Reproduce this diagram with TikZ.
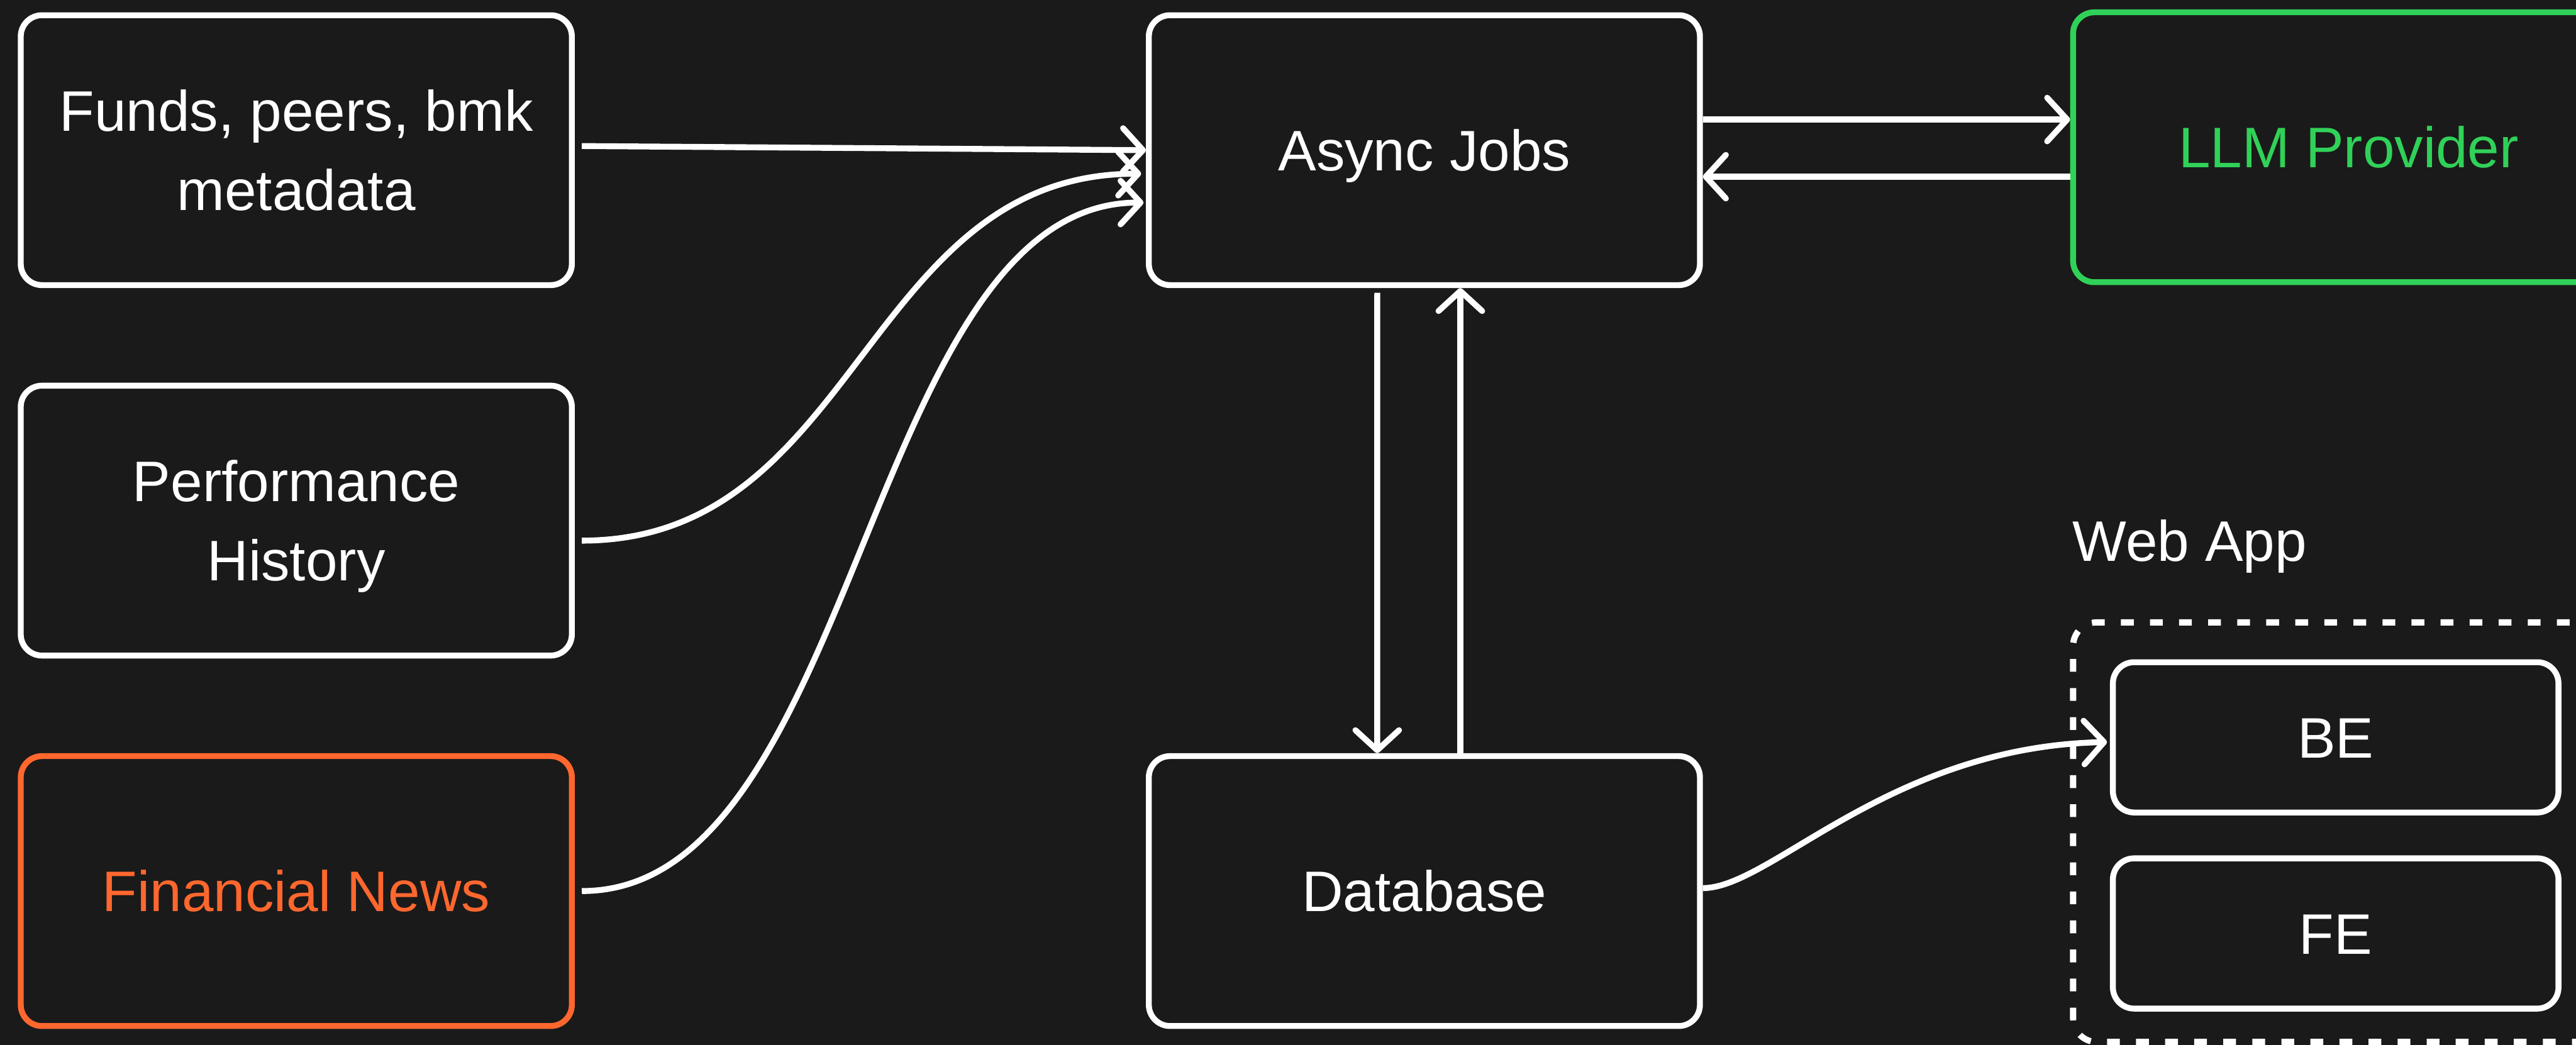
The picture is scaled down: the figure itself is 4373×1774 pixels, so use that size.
\documentclass[tikz,border=0pt]{standalone}
\usepackage{fontspec}
\setmainfont{Liberation Sans}
\usetikzlibrary{arrows.meta,calc}
\definecolor{bgdark}{HTML}{1A1A1A}
\definecolor{newsorange}{HTML}{FF672E}
\definecolor{llmgreen}{HTML}{30D158}

\begin{document}
\begin{tikzpicture}[x=0.01cm,y=-0.01cm,
  labelfont/.style={font=\fontsize{27.6}{38.1}\selectfont},
  box/.style={draw=white, line width=0.1cm, rounded corners=0.36cm, fill=bgdark,
    minimum width=9.35cm, minimum height=4.58cm, inner sep=0pt, align=center,
    text=white, labelfont, text height=0.695cm, text depth=0pt},
  twoline/.style={text height=2.035cm, text depth=0pt},
  smallbox/.style={box, minimum width=7.56cm, minimum height=2.55cm},
  groupbox/.style={draw=white, line width=0.105cm, rounded corners=0.4cm,
    dash pattern=on 0.217cm off 0.276cm, minimum width=9.81cm, minimum height=7.12cm,
    inner sep=0pt},
  link/.style={draw=white, line width=0.1cm,
    -{Straight Barb[length=0.34cm, width=0.74cm, line join=round, line cap=round]}},
]
% canvas
\fill[bgdark] (0,0) rectangle (4373,1774);
\useasboundingbox (0,0) rectangle (4373,1774);
\clip (0,0) rectangle (4373,1774);

% source boxes
\node[box, twoline] (funds) at (503,255) {Funds, peers, bmk\\metadata};
\node[box, twoline] (perf)  at (503,884) {Performance\\History};
\node[box, draw=newsorange, text=newsorange] (news) at (503,1513) {Financial News};

% processing and storage
\node[box] (async) at (2418,255) {Async Jobs};
\node[box] (db)    at (2418,1513) {Database};
\node[box, draw=llmgreen, text=llmgreen] (llm) at (3987,250) {LLM Provider};

% web app group
\node[anchor=base west, text=white, labelfont, inner sep=0pt] (weblabel) at (3518,953) {Web App};
\node[groupbox] (webapp) at (4010,1413) {};
\node[smallbox] (be) at (3965,1252) {BE};
\node[smallbox] (fe) at (3965,1585) {FE};

% inputs into the job runner
\draw[link] ([shift={(12,-7)}]funds.east) -- (async.west);
\draw[link] ([shift={(12,34)}]perf.east)
  .. controls +(470,0) and +(-470,0) .. ([shift={(-8,40)}]async.west);
\draw[link] ([xshift=0.12cm]news.east)
  .. controls +(470,0) and +(-470,0) .. ([shift={(-4,89)}]async.west);

% job runner <-> LLM
\draw[link] ([yshift=0.52cm]async.east) -- ([yshift=0.52cm]async.east -| llm.west);
\draw[link] ([yshift=-0.45cm]async.east -| llm.west) -- ([yshift=-0.45cm]async.east);

% job runner <-> database
\draw[link] ([shift={(-80,8)}]async.south) -- ([xshift=-0.8cm]db.north);
\draw[link] ([xshift=0.61cm]db.north) -- ([xshift=0.61cm]async.south);

% database -> backend
\draw[link] ([yshift=0.05cm]db.east)
  .. controls +(115,0) and +(-370,8) .. ([shift={(-5,8)}]be.west);
\end{tikzpicture}
\end{document}
